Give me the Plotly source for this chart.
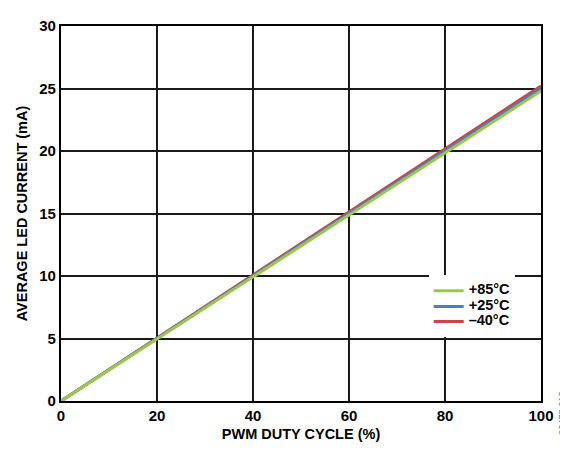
import plotly.graph_objects as go

duty = [0, 10, 20, 30, 40, 50, 60, 70, 80, 90, 100]
i_85 = [0.0, 2.48, 4.96, 7.44, 9.92, 12.40, 14.88, 17.36, 19.84, 22.32, 24.80]
i_25 = [0.0, 2.50, 5.00, 7.50, 10.00, 12.50, 15.00, 17.50, 20.00, 22.50, 25.00]
i_m40 = [0.0, 2.52, 5.04, 7.56, 10.08, 12.60, 15.12, 17.64, 20.16, 22.68, 25.20]

x_ticks = [0, 20, 40, 60, 80, 100]
y_ticks = [0, 5, 10, 15, 20, 25, 30]

FONT = "Liberation Sans, Arial, sans-serif"


def leg(name):
    return f'<span style="font-size:14.5px"><b>{name}</b></span>'


fig = go.Figure()
fig.add_trace(go.Scatter(x=duty, y=i_m40, mode="lines", name=leg("–40°C"),
                         legend="legend", line=dict(color="#cc4444", width=3)))
fig.add_trace(go.Scatter(x=duty, y=i_25, mode="lines", name=leg("+25°C"),
                         legend="legend2", line=dict(color="#4a7fc8", width=3)))
fig.add_trace(go.Scatter(x=duty, y=i_85, mode="lines", name=leg("+85°C"),
                         legend="legend3", line=dict(color="#9cc84a", width=3)))

axis_common = dict(showgrid=True, gridcolor="#1a1a1a", gridwidth=1.6,
                   showline=True, linecolor="#000000", linewidth=2.2, mirror=True,
                   zeroline=False, ticks="", tickfont=dict(family=FONT, size=15, color="#000"))

fig.update_xaxes(range=[0, 100], tickvals=x_ticks,
                 ticktext=[f"<b>{v}</b>" for v in x_ticks],
                 title=dict(text="<b>PWM DUTY CYCLE (%)</b>", font=dict(family=FONT, size=14.5, color="#000"), standoff=6),
                 **axis_common)
fig.update_yaxes(range=[0, 30], tickvals=y_ticks,
                 ticktext=[f"<b>{v}</b>" for v in y_ticks],
                 title=dict(text="<b>AVERAGE LED CURRENT (mA)</b>", font=dict(family=FONT, size=14.5, color="#000"), standoff=8),
                 **axis_common)

leg_font = dict(family=FONT, size=9.5, color="#000")
fig.update_layout(
    width=560, height=444,
    margin=dict(l=53, r=27, t=9, b=51),
    plot_bgcolor="white", paper_bgcolor="white",
    showlegend=True,
    legend=dict(x=0.766, y=0.172, xanchor="left", yanchor="bottom",
                bgcolor="white", font=leg_font, itemwidth=30,
                title=dict(text="&nbsp;<br>&nbsp;", font=dict(family=FONT, size=12.5))),
    legend2=dict(x=0.766, y=0.291, xanchor="left", yanchor="top",
                 bgcolor="rgba(0,0,0,0)", font=leg_font, itemwidth=30),
    legend3=dict(x=0.766, y=0.333, xanchor="left", yanchor="top",
                 bgcolor="rgba(0,0,0,0)", font=leg_font, itemwidth=30),
    annotations=[dict(text="09478-018", x=1.0, y=0.029, xref="paper", yref="paper",
                      xanchor="left", yanchor="top", xshift=14, textangle=-90,
                      showarrow=False, font=dict(family=FONT, size=9, color="#666"))],
)

fig.write_html("out.html")
